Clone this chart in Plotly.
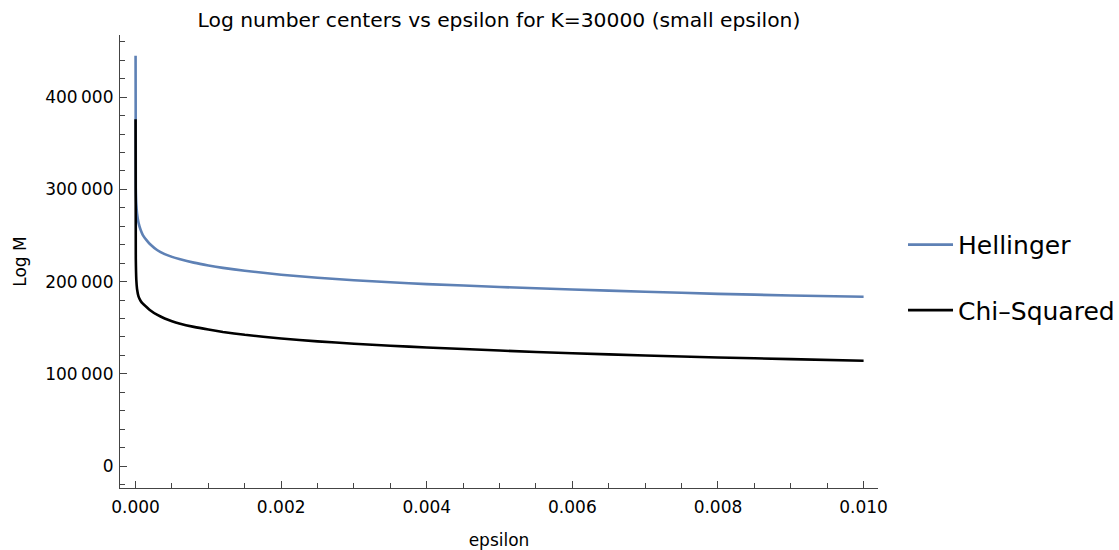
import plotly.graph_objects as go

# Data
epsilon = [0, 0.000003, 0.00001, 0.00002, 0.00004, 0.00007, 0.0001, 0.00015, 0.0002,
           0.0003, 0.0004, 0.0005, 0.0006, 0.0008, 0.001, 0.0012, 0.0015, 0.002,
           0.0025, 0.003, 0.0035, 0.004, 0.005, 0.006, 0.007, 0.008, 0.009, 0.01]
hellinger = [445000, 302000, 284000, 274000, 264000, 256000, 250500, 245000, 240500,
             234000, 229800, 226800, 224500, 220600, 217500, 214900, 211700, 207500,
             204200, 201500, 199300, 197300, 194200, 191400, 189000, 186700, 185000, 183600]
chi_squared = [376000, 225000, 202000, 192000, 184000, 179000, 176000, 172500, 169000,
               163800, 160000, 157000, 154600, 150900, 148000, 145400, 142300, 138300,
               135200, 132600, 130500, 128600, 125200, 122300, 119800, 117700, 115900, 114200]

x_tickvals = [0, 0.002, 0.004, 0.006, 0.008, 0.010]
x_ticktext = ["0.000", "0.002", "0.004", "0.006", "0.008", "0.010"]
y_tickvals = [0, 100000, 200000, 300000, 400000]
y_ticktext = ["0", "100\u2009000", "200\u2009000", "300\u2009000", "400\u2009000"]

BLUE = "#5E81B5"
AXIS = "#444444"
FONT = "DejaVu Sans"

fig = go.Figure()
fig.add_trace(go.Scatter(x=epsilon, y=hellinger, mode="lines", name="Hellinger",
                         legendgroup="h",
                         line=dict(color=BLUE, width=2.6, shape="spline", smoothing=0.5)))
fig.add_trace(go.Scatter(x=epsilon, y=chi_squared, mode="lines", name="Chi\u2013Squared",
                         legendgroup="c",
                         line=dict(color="black", width=2.6, shape="spline", smoothing=0.5)))

fig.update_layout(
    width=1119, height=550,
    margin=dict(l=120, r=241, t=35, b=62, autoexpand=False),
    paper_bgcolor="white", plot_bgcolor="white",
    font=dict(family=FONT, color="black", size=17),
    title=dict(text="Log number centers vs epsilon for K=30000 (small epsilon)",
               x=(120 + 878) / 2 / 1119, xanchor="center", y=1 - 20 / 550, yanchor="middle",
               font=dict(size=20.3, family=FONT, color="black")),
    showlegend=True,
    legend=dict(x=1.033, xanchor="left", y=0.465, yanchor="middle",
                font=dict(size=25, family=FONT, color="black"),
                tracegroupgap=30, itemwidth=45, bgcolor="rgba(0,0,0,0)"),
)

fig.update_xaxes(
    range=[-0.000214, 0.010198], showgrid=False, zeroline=False,
    showline=True, linecolor=AXIS, linewidth=1.2,
    tickmode="array", tickvals=x_tickvals, ticktext=x_ticktext,
    ticks="inside", ticklen=7, tickwidth=1, tickcolor=AXIS,
    ticklabelstandoff=3,
    tickfont=dict(size=17, family=FONT, color="black"),
    minor=dict(dtick=0.0005, tick0=0, ticks="inside", ticklen=4.5, tickwidth=1,
               tickcolor=AXIS, showgrid=False),
    title=dict(text="epsilon", standoff=22, font=dict(size=17, family=FONT, color="black")),
    automargin=False,
)
fig.update_yaxes(
    range=[-23860, 467460], showgrid=False, zeroline=False,
    showline=True, linecolor=AXIS, linewidth=1.2,
    tickmode="array", tickvals=y_tickvals, ticktext=y_ticktext,
    ticks="inside", ticklen=7, tickwidth=1, tickcolor=AXIS,
    ticklabelstandoff=2,
    tickfont=dict(size=17, family=FONT, color="black"),
    minor=dict(dtick=20000, tick0=0, ticks="inside", ticklen=4.5, tickwidth=1,
               tickcolor=AXIS, showgrid=False),
    title=dict(text="Log M", standoff=14, font=dict(size=17, family=FONT, color="black")),
    automargin=False,
)

fig.write_html("out.html")
